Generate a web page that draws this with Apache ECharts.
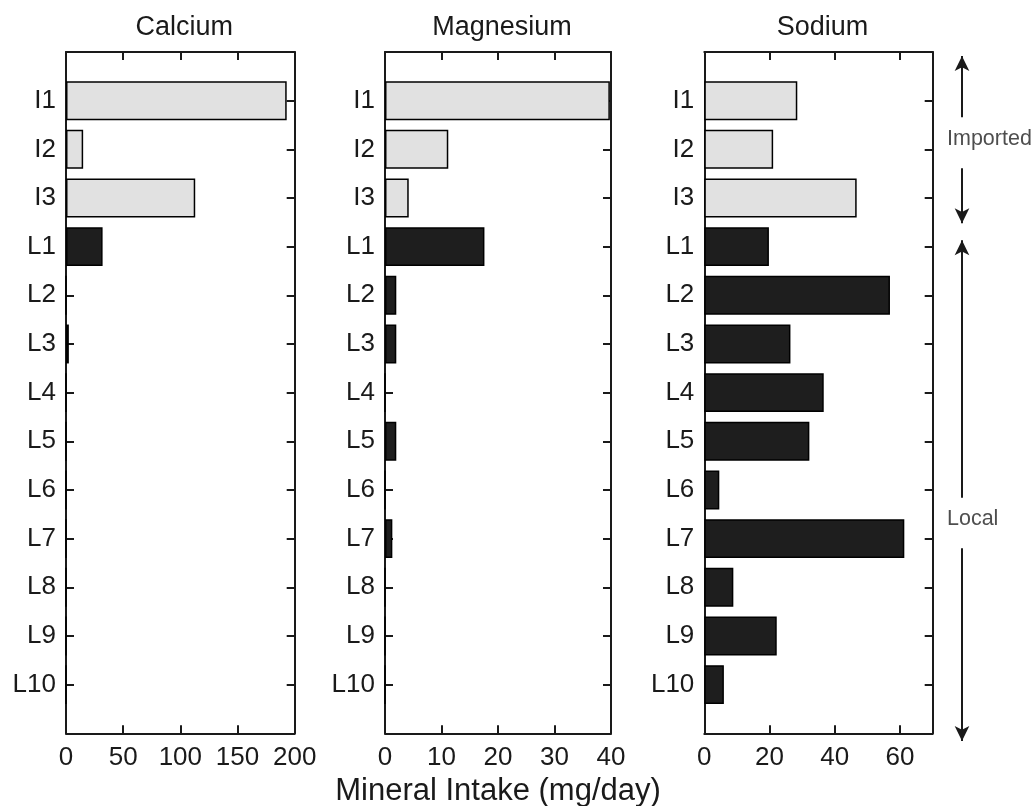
<!DOCTYPE html>
<html>
<head>
<meta charset="utf-8">
<script src="https://cdn.jsdelivr.net/npm/echarts@6/dist/echarts.min.js"></script>
<style>
html,body{margin:0;padding:0;background:#fff;}
#chart{width:1035px;height:806px;}
</style>
</head>
<body>
<div id="chart"></div>
<script>
// ---- data ----
const categories = ['I1','I2','I3','L1','L2','L3','L4','L5','L6','L7','L8','L9','L10'];
const panelTitles = ['Calcium','Magnesium','Sodium'];
const calcium   = [193, 15, 113, 32, 0, 2.5, 0, 0, 0, 0, 0, 0, 0];
const magnesium = [39.8, 11.2, 4.2, 17.6, 2.0, 2.0, 0, 2.0, 0, 1.3, 0, 0, 0];
const sodium    = [28.5, 21.1, 46.7, 19.8, 56.9, 26.4, 36.6, 32.2, 4.6, 61.3, 8.9, 22.2, 6.0];
const xMax      = [200, 40, 70];
const xInterval = [50, 10, 20];
const xName = 'Mineral Intake (mg/day)';
// group annotation: arrows (positions in category units, 0 = top edge, 14 = bottom edge)
const groupNames   = ['Imported', 'Local'];
const groupTip1    = [0.08, 3.87];
const groupGap1    = [1.34, 9.16];
const groupLabelAt = [1.79, 9.59];
const groupGap2    = [2.39, 10.2];
const groupTip2    = [3.52, 14.16];

const FONT = 'Liberation Sans';
const INK = '#1a1a1a';
const paddedCats = [''].concat(categories, [' ']);
const lightFill = '#e1e1e1', darkFill = '#1e1e1e';

const panels = [calcium, magnesium, sodium];
const gridLefts = [66, 385, 704.3];
const gridWidths = [228.7, 226, 228.4];
const TOP = 52, BOTTOM = 806 - 733.3;

const grids = [], xAxes = [], yAxes = [], series = [], titles = [];
panels.forEach((vals, p) => {
  grids.push({left: gridLefts[p], width: gridWidths[p], top: TOP, bottom: BOTTOM,
              containLabel: false, outerBoundsMode: 'none'});
  titles.push({
    text: panelTitles[p], left: gridLefts[p] + gridWidths[p] / 2 - 1, top: 9, textAlign: 'center',
    textStyle: {fontFamily: FONT, fontSize: 27, fontWeight: 'normal', color: INK}
  });
  const axLine = {show: true, onZero: false, lineStyle: {color: INK, width: 2}};
  const tick = {show: true, inside: true, length: 8, lineStyle: {color: INK, width: 2}};
  xAxes.push({
    type: 'value', gridIndex: p, position: 'bottom', min: 0, max: xMax[p], interval: xInterval[p],
    axisLine: axLine, axisTick: tick, splitLine: {show: false},
    axisLabel: {fontFamily: FONT, fontSize: 26, color: INK, margin: 12, showMaxLabel: xMax[p] % xInterval[p] === 0},
    name: p === 1 ? xName : '', nameLocation: 'middle', nameGap: 42,
    nameTextStyle: {fontFamily: FONT, fontSize: 31, color: INK}
  });
  xAxes.push({
    type: 'value', gridIndex: p, position: 'top', min: 0, max: xMax[p], interval: xInterval[p],
    axisLine: axLine, axisTick: tick, splitLine: {show: false}, axisLabel: {show: false}
  });
  yAxes.push({
    type: 'category', gridIndex: p, position: 'left', data: paddedCats, inverse: true, boundaryGap: false,
    axisLine: axLine, axisTick: Object.assign({}, tick, {interval: 0}), splitLine: {show: false},
    axisLabel: {fontFamily: FONT, fontSize: 26, color: INK, margin: 10, interval: 0}
  });
  yAxes.push({
    type: 'category', gridIndex: p, position: 'right', data: paddedCats, inverse: true, boundaryGap: false,
    axisLine: axLine, axisTick: Object.assign({}, tick, {interval: 0}), splitLine: {show: false}, axisLabel: {show: false}
  });
  series.push({
    type: 'bar', xAxisIndex: p * 2, yAxisIndex: p * 2, barWidth: '80%', z: 3,
    data: categories.map((c, i) => ({
      value: [vals[i], c],
      itemStyle: {
        color: c.charAt(0) === 'I' ? lightFill : darkFill,
        borderColor: '#000', borderWidth: 1.5
      }
    }))
  });
});

// annotation grid (arrows + group labels)
grids.push({left: 947, width: 30, top: TOP - 48.6, bottom: BOTTOM - 48.6, outerBoundsMode: 'none'});
xAxes.push({type: 'value', gridIndex: 3, min: 0, max: 1, show: false});
yAxes.push({type: 'value', gridIndex: 3, min: -1, max: 15, inverse: true, show: false});
const arrowSegs = [];
groupNames.forEach((g, i) => {
  arrowSegs.push([{coord: [0.5, groupGap1[i]]}, {coord: [0.5, groupTip1[i]]}]);
  arrowSegs.push([{coord: [0.5, groupGap2[i]]}, {coord: [0.5, groupTip2[i]]}]);
});
series.push({
  type: 'scatter', xAxisIndex: 6, yAxisIndex: 6, symbolSize: 0, silent: true,
  data: groupNames.map((g, i) => ({name: g, value: [0.5, groupLabelAt[i]]})),
  label: {show: true, position: 'right', distance: 0, offset: [-15, 0], formatter: '{b}',
          fontFamily: FONT, fontSize: 21.5, color: '#222', textBorderWidth: 0},
  markLine: {
    silent: true, symbol: ['none', 'arrow'], symbolSize: [11, 15], animation: false,
    lineStyle: {color: INK, width: 2, type: 'solid'}, label: {show: false},
    data: arrowSegs
  }
});

const chart = echarts.init(document.getElementById('chart'));
chart.setOption({
  animation: false,
  backgroundColor: '#fff',
  title: titles,
  grid: grids,
  xAxis: xAxes,
  yAxis: yAxes,
  series: series
});
</script>
</body>
</html>
